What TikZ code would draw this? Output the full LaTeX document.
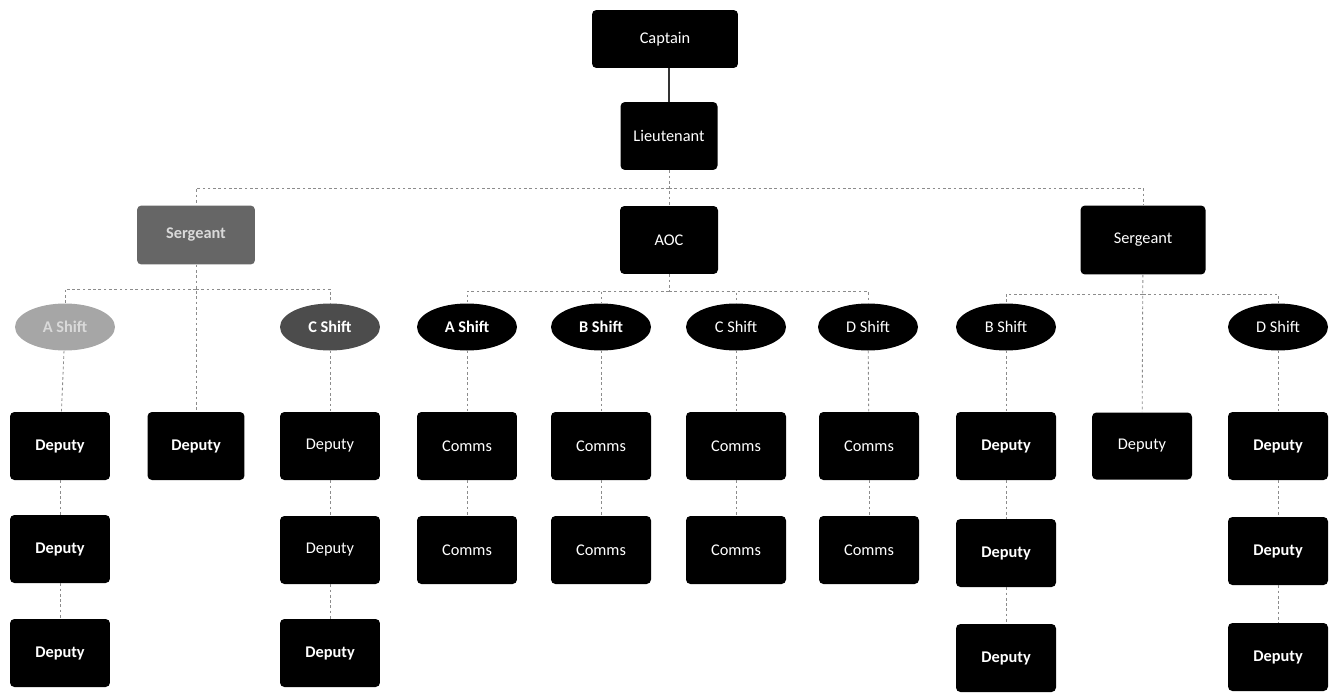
\documentclass[tikz,border=0pt]{standalone}
\usepackage{fontspec}
\setmainfont{Carlito}
\usetikzlibrary{shapes.geometric}
\begin{document}
\begin{tikzpicture}[x=0.02cm,y=-0.02cm,
  box/.style={draw=none,fill=black,rounded corners=2.5pt,text=white,font=\fontsize{9.3}{10}\selectfont,minimum width=2cm,minimum height=1.36cm,inner sep=0pt},
  bbox/.style={box,font=\bfseries\fontsize{9.3}{10}\selectfont},
  oval/.style={ellipse,fill=black,text=white,font=\fontsize{9.3}{10}\selectfont,minimum width=2cm,minimum height=0.94cm,inner sep=0pt},
  conn/.style={draw=black!45,line width=0.5pt,dash pattern=on 1.5pt off 1.5pt},
  solidconn/.style={draw=black!80,line width=0.8pt}]
\useasboundingbox (0,0) rectangle (1334,693);
% top
\node[box,minimum width=2.92cm,minimum height=1.16cm] (cap) at (665,39) {Captain};
\node[box,minimum width=1.94cm] (lt) at (669,136) {Lieutenant};
\node[box,minimum width=1.96cm] (aoc) at (669,240) {AOC};
\node[box,fill=black!60,minimum width=2.36cm,minimum height=1.18cm,font=\bfseries\fontsize{9.3}{10}\selectfont,text=black!15] (sgL) at (196,235) {Sergeant};
\node[box,minimum width=2.5cm,minimum height=1.38cm] (sgR) at (1143,240) {Sergeant};
% bars
\coordinate (b0) at (669,188);
\coordinate (bL) at (196,289);
\coordinate (bA) at (669,291);
\coordinate (bR) at (1143,294);
% ovals
\node[oval,fill=black!35,text=black!15,font=\bfseries\fontsize{9.3}{10}\selectfont] (lA) at (65,327) {A Shift};
\node[oval,fill=black!70,font=\bfseries\fontsize{9.3}{10}\selectfont] (lC) at (330,327) {C Shift};
\node[oval,font=\bfseries\fontsize{9.3}{10}\selectfont] (aA) at (467,327) {A Shift};
\node[oval,font=\bfseries\fontsize{9.3}{10}\selectfont] (aB) at (601,327) {B Shift};
\node[oval] (aC) at (736,327) {C Shift};
\node[oval] (aD) at (868,327) {D Shift};
\node[oval] (rB) at (1006,327) {B Shift};
\node[oval] (rD) at (1278,327) {D Shift};
% left sergeant deputies
\node[bbox] (lA1) at (60,446) {Deputy};
\node[bbox] (lA2) at (60,549) {Deputy};
\node[bbox] (lA3) at (60,653) {Deputy};
\node[bbox,minimum width=1.94cm] (lD) at (196,446) {Deputy};
\node[box] (lC1) at (330,446) {Deputy};
\node[box] (lC2) at (330,550) {Deputy};
\node[bbox] (lC3) at (330,653) {Deputy};
% comms
\node[box] (cA1) at (467,446) {Comms};
\node[box] (cA2) at (467,550) {Comms};
\node[box] (cB1) at (601,446) {Comms};
\node[box] (cB2) at (601,550) {Comms};
\node[box] (cC1) at (736,446) {Comms};
\node[box] (cC2) at (736,550) {Comms};
\node[box] (cD1) at (869,446) {Comms};
\node[box] (cD2) at (869,550) {Comms};
% right sergeant deputies
\node[bbox] (rB1) at (1006,446) {Deputy};
\node[bbox] (rB2) at (1006,553) {Deputy};
\node[bbox] (rB3) at (1006,658) {Deputy};
\node[box,minimum height=1.34cm] (rD0) at (1142,446) {Deputy};
\node[bbox] (rD1) at (1278,446) {Deputy};
\node[bbox] (rD2) at (1278,551) {Deputy};
\node[bbox] (rD3) at (1278,657) {Deputy};
% connectors
\draw[solidconn] (lt.north) -- (lt.north |- cap.south);
\draw[conn] (lt) -- (aoc);
\draw[conn] (b0) -| (sgL);
\draw[conn] (b0) -| (sgR);
\draw[conn] (sgL) -- (lD);
\draw[conn] (bL) -| (lA);
\draw[conn] (bL) -| (lC);
\draw[conn] (aoc) -- (bA);
\draw[conn] (bA) -| (aA);
\draw[conn] (bA) -| (aB);
\draw[conn] (bA) -| (aC);
\draw[conn] (bA) -| (aD);
\draw[conn] (sgR) -- (rD0);
\draw[conn] (bR) -| (rB);
\draw[conn] (bR) -| (rD);
\foreach \a/\b in {lA/lA1,lA1/lA2,lA2/lA3,lC/lC1,lC1/lC2,lC2/lC3,aA/cA1,cA1/cA2,aB/cB1,cB1/cB2,aC/cC1,cC1/cC2,aD/cD1,cD1/cD2,rB/rB1,rB1/rB2,rB2/rB3,rD/rD1,rD1/rD2,rD2/rD3}
  \draw[conn] (\a) -- (\b);
\end{tikzpicture}
\end{document}
